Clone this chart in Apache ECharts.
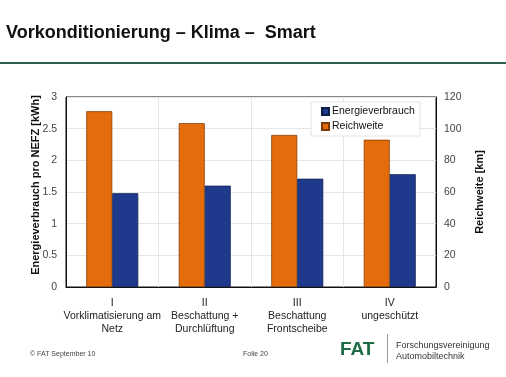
<!DOCTYPE html>
<html>
<head>
<meta charset="utf-8">
<script src="https://cdn.jsdelivr.net/npm/echarts@6/dist/echarts.min.js"></script>
<style>
html, body { margin: 0; padding: 0; background: #fff; }
#main { width: 506px; height: 377px; }
</style>
</head>
<body>
<div id="main"></div>
<script>
// Daten
var kategorien = ['I\nVorklimatisierung am\nNetz', 'II\nBeschattung +\nDurchlüftung', 'III\nBeschattung\nFrontscheibe', 'IV\nungeschützt'];
var energieverbrauch = [1.48, 1.60, 1.71, 1.78];   // kWh
var reichweite = [111, 103.5, 96, 93];             // km
var linkeTicks = [0, 3, 0.5];
var rechteTicks = [0, 120, 20];

var chart = echarts.init(document.getElementById('main'));
var option = {
    backgroundColor: '#fff',
    textStyle: { fontFamily: 'Liberation Sans, Arial, sans-serif' },
    graphic: [
        {
            type: 'text', left: 6, top: 24,
            style: { text: 'Vorkonditionierung – Klima –  Smart', fontSize: 18, fontWeight: 'bold', fill: '#111', fontFamily: 'Liberation Sans, Arial' }
        },
        {
            type: 'rect', shape: { x: 0, y: 62, width: 506, height: 2 },
            style: { fill: '#2e5e52' }
        },
        {
            type: 'text', left: 30, top: 351,
            style: { text: '© FAT September 10', fontSize: 7, fill: '#444' }
        },
        {
            type: 'text', left: 243, top: 351,
            style: { text: 'Folie 20', fontSize: 7, fill: '#444' }
        },
        {
            type: 'text', left: 340, top: 340,
            style: { text: 'FAT', fontSize: 19, fontWeight: 'bold', fill: '#1e6b45', fontFamily: 'Liberation Sans, Arial' }
        },
        {
            type: 'rect', shape: { x: 387, y: 334, width: 1, height: 29 },
            style: { fill: '#999' }
        },
        {
            type: 'text', left: 396, top: 340,
            style: { text: 'Forschungsvereinigung\nAutomobiltechnik', fontSize: 9, lineHeight: 11, fill: '#333' }
        }
    ],
    legend: {
        data: ['Energieverbrauch', 'Reichweite'],
        icon: 'rect',
        orient: 'vertical',
        left: 311, top: 102,
        itemWidth: 7, itemHeight: 7, itemGap: 4,
        padding: [4, 5, 4, 10],
        backgroundColor: '#fff',
        borderColor: '#e4e4e4', borderWidth: 1,
        textStyle: { fontSize: 10.5, color: '#111', padding: [0, 0, 0, -2] }
    },
    grid: {
        left: 66, right: 70, top: 97, bottom: 90,
        show: true, borderColor: '#111', borderWidth: 1
    },
    xAxis: {
        type: 'category',
        data: kategorien,
        axisLine: { lineStyle: { color: '#111' } },
        axisTick: { show: false },
        splitLine: { show: true, lineStyle: { color: '#e6e6e6' } },
        axisLabel: { color: '#222', fontSize: 10.5, lineHeight: 13, margin: 10, interval: 0 }
    },
    yAxis: [
        {
            type: 'value',
            min: linkeTicks[0], max: linkeTicks[1], interval: linkeTicks[2],
            name: 'Energieverbrauch pro NEFZ [kWh]',
            nameLocation: 'middle', nameGap: 25, nameRotate: 90, nameMoveOverlap: false,
            nameTextStyle: { fontSize: 11, fontWeight: 'bold', color: '#111', padding: [0, 0, 0, 14] },
            axisLine: { show: true, lineStyle: { color: '#111' } },
            axisTick: { show: false },
            axisLabel: { color: '#444', fontSize: 10.5, margin: 9 },
            splitLine: { lineStyle: { color: '#e6e6e6' } }
        },
        {
            type: 'value',
            min: rechteTicks[0], max: rechteTicks[1], interval: rechteTicks[2],
            name: 'Reichweite [km]',
            nameLocation: 'middle', nameGap: 38, nameRotate: 90, nameMoveOverlap: false,
            nameTextStyle: { fontSize: 11, fontWeight: 'bold', color: '#111' },
            axisLine: { show: true, lineStyle: { color: '#111' } },
            axisTick: { show: false },
            axisLabel: { color: '#444', fontSize: 10.5, margin: 8 },
            splitLine: { show: false }
        }
    ],
    series: [
        {
            name: 'Reichweite',
            type: 'bar',
            yAxisIndex: 1,
            data: reichweite,
            barWidth: 26,
            barGap: '0%',
            itemStyle: { color: '#e46c0a', borderColor: '#7a3a08', borderWidth: 0.7 }
        },
        {
            name: 'Energieverbrauch',
            type: 'bar',
            yAxisIndex: 0,
            data: energieverbrauch,
            barWidth: 26,
            barGap: '0%',
            itemStyle: { color: '#1f3a8c', borderColor: '#101c48', borderWidth: 0.7 }
        }
    ]
};
chart.setOption(option);
</script>
</body>
</html>
